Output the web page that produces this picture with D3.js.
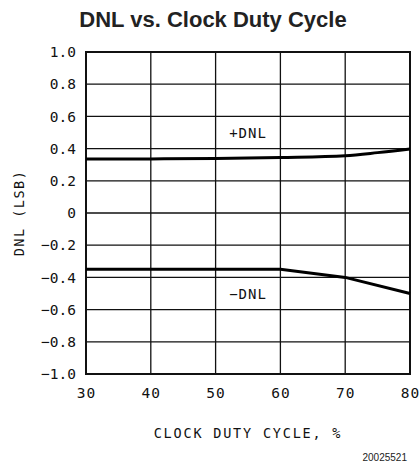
<!DOCTYPE html>
<html><head><meta charset="utf-8">
<script src="https://cdn.jsdelivr.net/npm/d3@7"></script>
<style>body{margin:0;background:#fff}svg{display:block}</style>
</head><body>
<script>
const xTicks = [30, 40, 50, 60, 70, 80];
const yTicks = [-1.0, -0.8, -0.6, -0.4, -0.2, 0, 0.2, 0.4, 0.6, 0.8, 1.0];
const plusDNL_x = [30, 40, 50, 60, 70, 75, 80];
const plusDNL_y = [0.335, 0.336, 0.338, 0.345, 0.356, 0.375, 0.398];
const minusDNL_x = [30, 40, 50, 60, 70, 80];
const minusDNL_y = [-0.35, -0.35, -0.35, -0.35, -0.40, -0.50];
const seriesLabels = ["+DNL", "\u2212DNL"];

const W = 419, H = 468;
const m = {l: 86, r: 9, t: 52, b: 94};
const svg = d3.select("body").append("svg").attr("width", W).attr("height", H);
const x = d3.scaleLinear().domain([30, 80]).range([m.l, W - m.r]);
const y = d3.scaleLinear().domain([-1, 1]).range([H - m.b, m.t]);
const mono = "'DejaVu Sans Mono', monospace";
const fmt = v => (v === 0 ? "0" : d3.format(".1f")(v).replace("-", "\u2212"));

// grid
const g = svg.append("g");
g.selectAll(".vx").data(xTicks).join("line")
  .attr("x1", d => x(d)).attr("x2", d => x(d)).attr("y1", y(-1)).attr("y2", y(1))
  .attr("stroke", "#111").attr("stroke-width", 1.3);
g.selectAll(".hy").data(yTicks).join("line")
  .attr("y1", d => y(d)).attr("y2", d => y(d)).attr("x1", x(30)).attr("x2", x(80))
  .attr("stroke", "#111").attr("stroke-width", 1.3);
svg.append("rect").attr("x", x(30)).attr("y", y(1)).attr("width", x(80) - x(30)).attr("height", y(-1) - y(1))
  .attr("fill", "none").attr("stroke", "#111").attr("stroke-width", 2);

// tick labels via axes
const ax = svg.append("g").attr("transform", `translate(0,${y(-1)})`)
  .call(d3.axisBottom(x).tickValues(xTicks).tickSize(0).tickPadding(14).tickFormat(d3.format("d")));
ax.select(".domain").remove();
ax.selectAll("text").attr("font-family", mono).attr("font-size", 14.5).attr("fill", "#111").attr("letter-spacing", 1);
const ay = svg.append("g").attr("transform", `translate(${x(30)},0)`)
  .call(d3.axisLeft(y).tickValues(yTicks).tickSize(0).tickPadding(10).tickFormat(fmt));
ay.select(".domain").remove();
ay.selectAll("text").attr("font-family", mono).attr("font-size", 14.5).attr("fill", "#111");

// lines
const line = d3.line().x(d => x(d[0])).y(d => y(d[1])).curve(d3.curveMonotoneX);
svg.append("path").datum(plusDNL_x.map((v, i) => [v, plusDNL_y[i]])).attr("d", line)
  .attr("fill", "none").attr("stroke", "#000").attr("stroke-width", 3);
svg.append("path").datum(minusDNL_x.map((v, i) => [v, minusDNL_y[i]])).attr("d", d3.line().x(d => x(d[0])).y(d => y(d[1])))
  .attr("fill", "none").attr("stroke", "#000").attr("stroke-width", 3);

// series labels
svg.append("text").attr("x", x(55)).attr("y", y(0.465)).attr("text-anchor", "middle")
  .attr("font-family", mono).attr("font-size", 14).attr("letter-spacing", 1).attr("fill", "#111").text(seriesLabels[0]);
svg.append("text").attr("x", x(55)).attr("y", y(-0.535)).attr("text-anchor", "middle")
  .attr("font-family", mono).attr("font-size", 14).attr("letter-spacing", 1).attr("fill", "#111").text(seriesLabels[1]);

// titles
svg.append("text").attr("x", 213).attr("y", 26.5).attr("text-anchor", "middle")
  .attr("font-family", "'Liberation Sans', Arial, sans-serif").attr("font-weight", "bold").attr("font-size", 22)
  .attr("fill", "#222").text("DNL vs. Clock Duty Cycle");
svg.append("text").attr("x", x(55)).attr("y", 438).attr("text-anchor", "middle")
  .attr("font-family", mono).attr("font-size", 13.5).attr("letter-spacing", 1.8).attr("fill", "#111").text("CLOCK DUTY CYCLE, %");
svg.append("text").attr("transform", `translate(24,${y(0)}) rotate(-90)`).attr("text-anchor", "middle")
  .attr("font-family", mono).attr("font-size", 13.5).attr("letter-spacing", 1.5).attr("fill", "#111").text("DNL (LSB)");
svg.append("text").attr("x", 407).attr("y", 461).attr("text-anchor", "end")
  .attr("font-family", "'Liberation Sans', Arial, sans-serif").attr("font-size", 10).attr("fill", "#222").text("20025521");
</script>
</body></html>
